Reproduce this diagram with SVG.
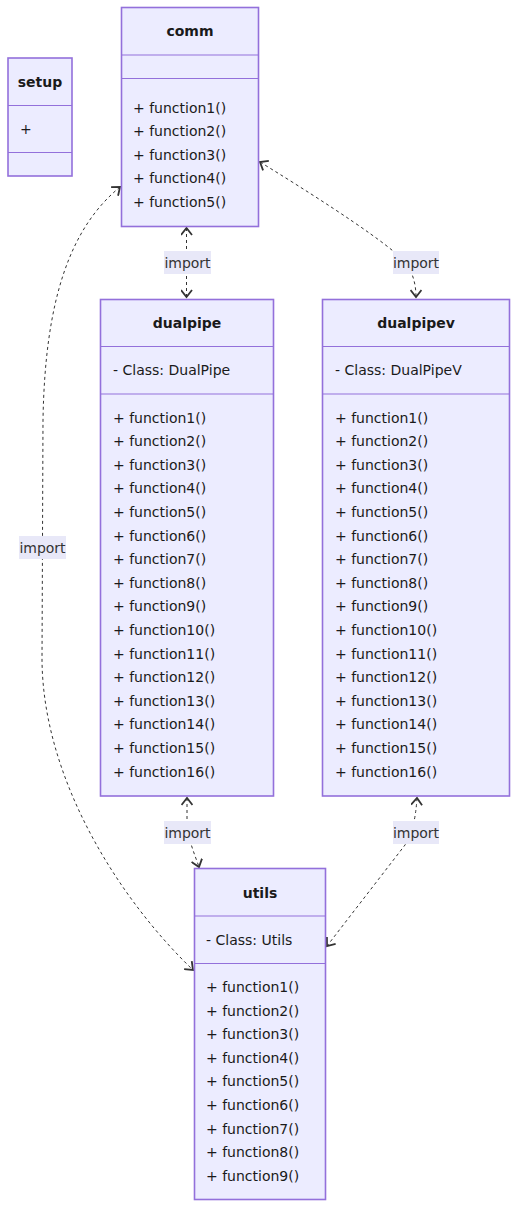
<svg xmlns="http://www.w3.org/2000/svg" width="525" height="1226" viewBox="0 0 525 1226">
<style>
.box{fill:#ECECFF;stroke:#9370DB;stroke-width:1.6}
.dv{stroke:#9370DB;stroke-width:1}
text{font-family:"DejaVu Sans",Verdana,sans-serif;font-size:14px;fill:#1a1a1a;dominant-baseline:central}
.t{font-weight:bold;text-anchor:middle}
.lb{fill:#E8E8F8}
.lt{text-anchor:middle;fill:#333}
.edge{fill:none;stroke:#333;stroke-width:1;stroke-dasharray:3,3;marker-start:url(#arr);marker-end:url(#arr)}
</style>
<defs>
<marker id="arr" viewBox="0 0 12 12" refX="10" refY="6" markerWidth="12" markerHeight="12" markerUnits="userSpaceOnUse" orient="auto-start-reverse">
<path d="M3,0.5 L10,6 L3,11.5" fill="none" stroke="#333" stroke-width="1.8"/>
</marker>
</defs>
<rect width="525" height="1226" fill="#fff"/>

<g id="connectors">
<path class="edge" d="M186.5,228 L186.5,297"/>
<path class="edge" d="M260,162 C330,205 390,245 405,262 C413,272 416,285 416,297"/>
<path class="edge" d="M120,187 C70,228 45,300 43,420 L42,660 C43,780 120,900 193,970"/>
<path class="edge" d="M187,798 L187,822 C188,840 195,855 199,867"/>
<path class="edge" d="M417,798 Q415,830 405,845 L327,946"/>
<g id="labels">
<rect class="lb" x="164" y="251" width="47" height="23"/><text class="lt" x="187.5" y="262.5">import</text>
<rect class="lb" x="393" y="251" width="46" height="23"/><text class="lt" x="416" y="262.5">import</text>
<rect class="lb" x="19" y="536" width="47" height="23"/><text class="lt" x="42.5" y="547.5">import</text>
<rect class="lb" x="164" y="821" width="47" height="23"/><text class="lt" x="187.5" y="832.5">import</text>
<rect class="lb" x="393" y="821" width="46" height="23"/><text class="lt" x="416" y="832.5">import</text>
</g>
</g>

<g id="setup">
<rect class="box" x="8" y="58" width="64" height="118"/>
<line class="dv" x1="8" y1="105.5" x2="72" y2="105.5"/>
<line class="dv" x1="8" y1="152.5" x2="72" y2="152.5"/>
<text class="t" x="40" y="82">setup</text>
<text x="20" y="129">+</text>
</g>

<g id="comm">
<rect class="box" x="121.5" y="7.5" width="137" height="219"/>
<line class="dv" x1="121.5" y1="55" x2="258.5" y2="55"/>
<line class="dv" x1="121.5" y1="78.5" x2="258.5" y2="78.5"/>
<text class="t" x="190" y="31">comm</text>
<text x="133" y="107.5">+ function1()</text>
<text x="133" y="131.1">+ function2()</text>
<text x="133" y="154.7">+ function3()</text>
<text x="133" y="178.3">+ function4()</text>
<text x="133" y="201.9">+ function5()</text>
</g>

<g id="dualpipe">
<rect class="box" x="100.5" y="299.5" width="173" height="496.5"/>
<line class="dv" x1="100.5" y1="346.5" x2="273.5" y2="346.5"/>
<line class="dv" x1="100.5" y1="394" x2="273.5" y2="394"/>
<text class="t" x="187" y="323">dualpipe</text>
<text x="113" y="370">- Class: DualPipe</text>
<text x="113" y="417.5">+ function1()</text>
<text x="113" y="441.1">+ function2()</text>
<text x="113" y="464.7">+ function3()</text>
<text x="113" y="488.3">+ function4()</text>
<text x="113" y="511.9">+ function5()</text>
<text x="113" y="535.5">+ function6()</text>
<text x="113" y="559.1">+ function7()</text>
<text x="113" y="582.7">+ function8()</text>
<text x="113" y="606.3">+ function9()</text>
<text x="113" y="629.9">+ function10()</text>
<text x="113" y="653.5">+ function11()</text>
<text x="113" y="677.1">+ function12()</text>
<text x="113" y="700.7">+ function13()</text>
<text x="113" y="724.3">+ function14()</text>
<text x="113" y="747.9">+ function15()</text>
<text x="113" y="771.5">+ function16()</text>
</g>

<g id="dualpipev">
<rect class="box" x="322.5" y="299.5" width="187" height="496.5"/>
<line class="dv" x1="322.5" y1="346.5" x2="509.5" y2="346.5"/>
<line class="dv" x1="322.5" y1="394" x2="509.5" y2="394"/>
<text class="t" x="416" y="323">dualpipev</text>
<text x="335" y="370">- Class: DualPipeV</text>
<text x="335" y="417.5">+ function1()</text>
<text x="335" y="441.1">+ function2()</text>
<text x="335" y="464.7">+ function3()</text>
<text x="335" y="488.3">+ function4()</text>
<text x="335" y="511.9">+ function5()</text>
<text x="335" y="535.5">+ function6()</text>
<text x="335" y="559.1">+ function7()</text>
<text x="335" y="582.7">+ function8()</text>
<text x="335" y="606.3">+ function9()</text>
<text x="335" y="629.9">+ function10()</text>
<text x="335" y="653.5">+ function11()</text>
<text x="335" y="677.1">+ function12()</text>
<text x="335" y="700.7">+ function13()</text>
<text x="335" y="724.3">+ function14()</text>
<text x="335" y="747.9">+ function15()</text>
<text x="335" y="771.5">+ function16()</text>
</g>

<g id="utils">
<rect class="box" x="194.5" y="868.5" width="131" height="331"/>
<line class="dv" x1="194.5" y1="916" x2="325.5" y2="916"/>
<line class="dv" x1="194.5" y1="963.5" x2="325.5" y2="963.5"/>
<text class="t" x="260" y="893">utils</text>
<text x="206" y="940">- Class: Utils</text>
<text x="206" y="987">+ function1()</text>
<text x="206" y="1010.6">+ function2()</text>
<text x="206" y="1034.2">+ function3()</text>
<text x="206" y="1057.8">+ function4()</text>
<text x="206" y="1081.4">+ function5()</text>
<text x="206" y="1105">+ function6()</text>
<text x="206" y="1128.6">+ function7()</text>
<text x="206" y="1152.2">+ function8()</text>
<text x="206" y="1175.8">+ function9()</text>
</g>
</svg>
